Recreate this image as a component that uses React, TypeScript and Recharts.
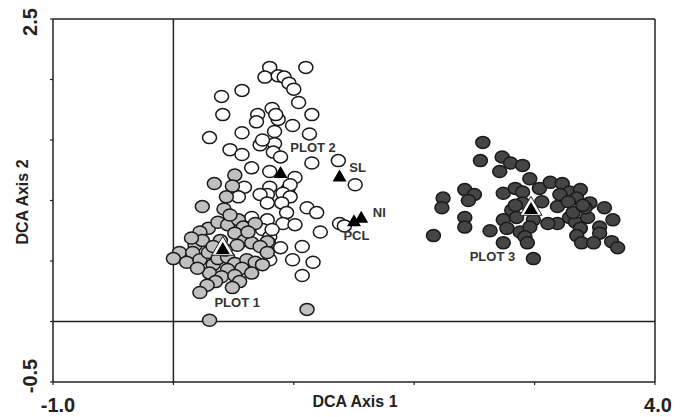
import { ScatterChart, Scatter, XAxis, YAxis, ReferenceLine } from 'recharts';

// DCA sample scores: [axis 1, axis 2]
const plot1: [number, number][] = [
  [0.51, 1.21], [0.34, 1.14], [0.49, 1.12], [0.44, 1.03], [0.24, 0.95], [0.42, 0.93],
  [0.29, 0.77], [0.37, 0.82], [0.45, 0.8], [0.22, 0.74], [0.54, 0.84], [0.58, 0.78],
  [0.68, 0.81], [0.51, 0.73], [0.59, 0.67], [0.53, 0.63], [0.65, 0.65], [0.78, 0.66],
  [0.72, 0.62], [0.18, 0.63], [0.24, 0.67], [0.05, 0.57], [0.0, 0.52], [0.16, 0.57],
  [0.11, 0.49], [0.22, 0.51], [0.29, 0.57], [0.33, 0.47], [0.37, 0.52], [0.45, 0.53],
  [0.51, 0.48], [0.61, 0.51], [0.68, 0.49], [0.74, 0.47], [0.78, 0.57], [0.57, 0.44],
  [0.45, 0.43], [0.3, 0.4], [0.2, 0.44], [0.4, 0.37], [0.51, 0.38], [0.55, 0.33],
  [0.65, 0.4], [0.35, 0.33], [0.28, 0.3], [0.22, 0.24], [0.49, 0.28], [1.11, 0.1],
  [0.3, 0.01], [0.39, 0.67], [0.33, 0.62], [0.15, 0.69], [0.47, 0.88], [0.62, 0.74],
  [0.43, 0.59],
];

const plot2: [number, number][] = [
  [0.8, 2.1], [1.1, 2.1], [0.76, 2.02], [0.87, 2.03], [0.92, 2.02], [0.96, 1.97],
  [1.0, 1.92], [0.57, 1.91], [0.4, 1.86], [1.04, 1.81], [0.82, 1.76], [0.7, 1.71],
  [1.15, 1.71], [0.41, 1.71], [0.87, 1.67], [0.99, 1.62], [0.84, 1.57], [0.57, 1.56],
  [0.3, 1.52], [1.13, 1.55], [0.72, 1.46], [0.84, 1.47], [0.47, 1.42], [0.57, 1.38],
  [0.83, 1.4], [0.89, 1.36], [1.15, 1.31], [0.65, 1.27], [0.8, 1.24], [1.37, 1.33],
  [1.01, 1.19], [1.51, 1.13], [0.59, 1.11], [0.8, 1.11], [0.95, 1.09], [0.54, 1.03],
  [0.78, 1.05], [0.97, 1.13], [0.91, 1.06], [0.72, 1.05], [0.97, 1.03], [0.78, 0.98],
  [0.9, 0.98], [0.94, 0.9], [0.78, 0.84], [0.74, 0.76], [0.8, 0.7], [0.79, 0.65],
  [0.91, 0.81], [1.01, 0.8], [1.11, 0.94], [1.19, 0.9], [1.22, 0.74], [0.89, 0.61],
  [0.8, 0.51], [0.99, 0.51], [1.07, 0.62], [1.16, 0.49], [1.07, 0.38], [1.38, 0.81],
  [1.42, 0.79], [0.65, 0.86], [0.82, 0.76], [0.74, 1.5], [0.69, 1.65], [0.85, 1.71],
];

const plot3: [number, number][] = [
  [2.57, 1.48], [2.55, 1.33], [2.73, 1.36], [2.8, 1.31], [2.9, 1.29], [2.71, 1.24],
  [2.96, 1.18], [3.04, 1.1], [3.13, 1.15], [3.23, 1.14], [3.29, 1.07], [3.38, 1.09],
  [2.42, 1.09], [2.5, 1.05], [2.24, 1.02], [2.45, 1.0], [2.23, 0.94], [2.74, 1.06],
  [2.84, 1.1], [2.9, 1.07], [3.06, 0.99], [3.19, 0.95], [3.35, 1.02], [3.46, 0.98],
  [3.58, 0.94], [2.81, 0.92], [2.42, 0.86], [2.42, 0.78], [2.63, 0.75], [2.74, 0.84],
  [2.85, 0.86], [2.99, 0.84], [3.19, 0.81], [3.29, 0.86], [3.34, 0.82], [3.44, 0.86],
  [3.65, 0.84], [3.54, 0.78], [3.54, 0.73], [2.77, 0.77], [2.88, 0.74], [2.96, 0.78],
  [3.38, 0.77], [3.35, 0.71], [2.16, 0.71], [2.92, 0.7], [2.74, 0.65], [2.94, 0.65],
  [3.39, 0.65], [3.49, 0.65], [3.64, 0.66], [3.69, 0.61], [2.99, 0.52], [2.9, 0.98],
  [2.84, 0.96], [3.21, 1.05], [3.28, 0.99], [3.42, 0.94], [3.32, 0.9], [3.11, 0.81],
  [3.4, 0.96],
];

// plot centroids (white-rimmed where drawn that way) and environmental variables
const centroids: [number, number, boolean][] = [
  [0.41, 0.6, true],
  [0.89, 1.22, false],
  [2.97, 0.93, true],
];
const envVars: [string, number, number][] = [
  ['PCL', 1.5, 0.82],
  ['SL', 1.38, 1.19],
  ['NI', 1.56, 0.85],
];

const labels: [string, number, number][] = [
  ['PLOT 1', 0.53, 0.16],
  ['PLOT 2', 1.16, 1.44],
  ['PLOT 3', 2.65, 0.54],
  ['SL', 1.53, 1.27],
  ['NI', 1.71, 0.9],
  ['PCL', 1.52, 0.71],
];

const xTicks = [-1, 0, 1, 2, 3, 4];
const yTicks = [-0.5, 0, 0.5, 1, 1.5, 2, 2.5];

const FONT = '"Liberation Sans", Arial, sans-serif';
const INK = '#222';

const toPts = (arr: [number, number][]) => arr.map(([x, y]) => ({ x, y }));

function Ellipse(fill: string) {
  return (p: any) => (
    <ellipse cx={p.cx} cy={p.cy} rx={7} ry={6} fill={fill} stroke="#1a1a1a" strokeWidth={1.5} />
  );
}

function tri(cx: number, cy: number, w: number, h: number) {
  return `${cx},${cy - (h * 2) / 3} ${cx - w},${cy + h / 3} ${cx + w},${cy + h / 3}`;
}

function Triangle(p: any) {
  const { cx, cy, payload } = p;
  if (payload.rim) {
    return (
      <g>
        <polygon points={tri(cx, cy, 11, 19)} fill="#fff" stroke={INK} strokeWidth={1} />
        <polygon points={tri(cx, cy + 1, 7, 12)} fill="#000" />
      </g>
    );
  }
  return <polygon points={tri(cx, cy, 7, 12)} fill="#000" />;
}

function Label(p: any) {
  return (
    <text
      x={p.cx}
      y={p.cy}
      textAnchor="middle"
      dominantBaseline="central"
      fontFamily={FONT}
      fontWeight="bold"
      fontSize={13}
      fill="#333"
    >
      {p.payload.text}
    </text>
  );
}

function XTick(p: any) {
  const v = p.payload.value;
  if (v !== -1 && v !== 4) return null;
  return (
    <text x={p.x + (v === -1 ? 5 : 3)} y={412} textAnchor="middle" fontFamily={FONT} fontWeight="bold" fontSize={20} fill={INK}>
      {v.toFixed(1)}
    </text>
  );
}

function YTick(p: any) {
  const v = p.payload.value;
  if (v !== -0.5 && v !== 2.5) return null;
  const y = p.y + (v === 2.5 ? 3 : -6);
  return (
    <text x={37} y={y} transform={`rotate(-90, 37, ${y})`} textAnchor="middle" fontFamily={FONT} fontWeight="bold" fontSize={20} fill={INK}>
      {v.toFixed(1)}
    </text>
  );
}

export default function App() {
  const centroidData = centroids.map(([x, y, rim]) => ({ x, y, rim }));
  const envData = envVars.map(([, x, y]) => ({ x, y, rim: false }));
  const labelData = labels.map(([text, x, y]) => ({ x, y, text }));

  return (
    <div style={{ position: 'absolute', left: 0, top: 0, background: '#fff' }}>
      <ScatterChart width={690} height={417} margin={{ top: 19, right: 35, bottom: 0, left: 0 }}>
        <XAxis
          type="number"
          dataKey="x"
          domain={[-1, 4]}
          ticks={xTicks}
          height={35}
          tick={<XTick />}
          tickSize={3}
          axisLine={{ stroke: INK, strokeWidth: 1.5 }}
          tickLine={{ stroke: INK, strokeWidth: 1.2 }}
          allowDataOverflow
        />
        <YAxis
          type="number"
          dataKey="y"
          domain={[-0.5, 2.5]}
          ticks={yTicks}
          width={53}
          tick={<YTick />}
          tickSize={3}
          axisLine={{ stroke: INK, strokeWidth: 1.5 }}
          tickLine={{ stroke: INK, strokeWidth: 1.2 }}
          allowDataOverflow
        />
        <ReferenceLine y={2.5} stroke={INK} strokeWidth={1.5} />
        <ReferenceLine x={4} stroke={INK} strokeWidth={1.5} />
        <ReferenceLine x={0} stroke={INK} strokeWidth={1.5} />
        <ReferenceLine y={0} stroke={INK} strokeWidth={1.5} />
        <Scatter data={toPts(plot2)} shape={Ellipse('#fff')} isAnimationActive={false} />
        <Scatter data={toPts(plot1)} shape={Ellipse('#c0c0c0')} isAnimationActive={false} />
        <Scatter data={toPts(plot3)} shape={Ellipse('#454545')} isAnimationActive={false} />
        <Scatter data={envData} shape={Triangle} isAnimationActive={false} />
        <Scatter data={centroidData} shape={Triangle} isAnimationActive={false} />
        <Scatter data={labelData} shape={Label} isAnimationActive={false} />
        <text x={355} y={407} textAnchor="middle" fontFamily={FONT} fontWeight="bold" fontSize={16} fill={INK}>
          DCA Axis 1
        </text>
        <text x={28} y={202} transform="rotate(-90, 28, 202)" textAnchor="middle" fontFamily={FONT} fontWeight="bold" fontSize={16} fill={INK}>
          DCA Axis 2
        </text>
      </ScatterChart>
    </div>
  );
}
